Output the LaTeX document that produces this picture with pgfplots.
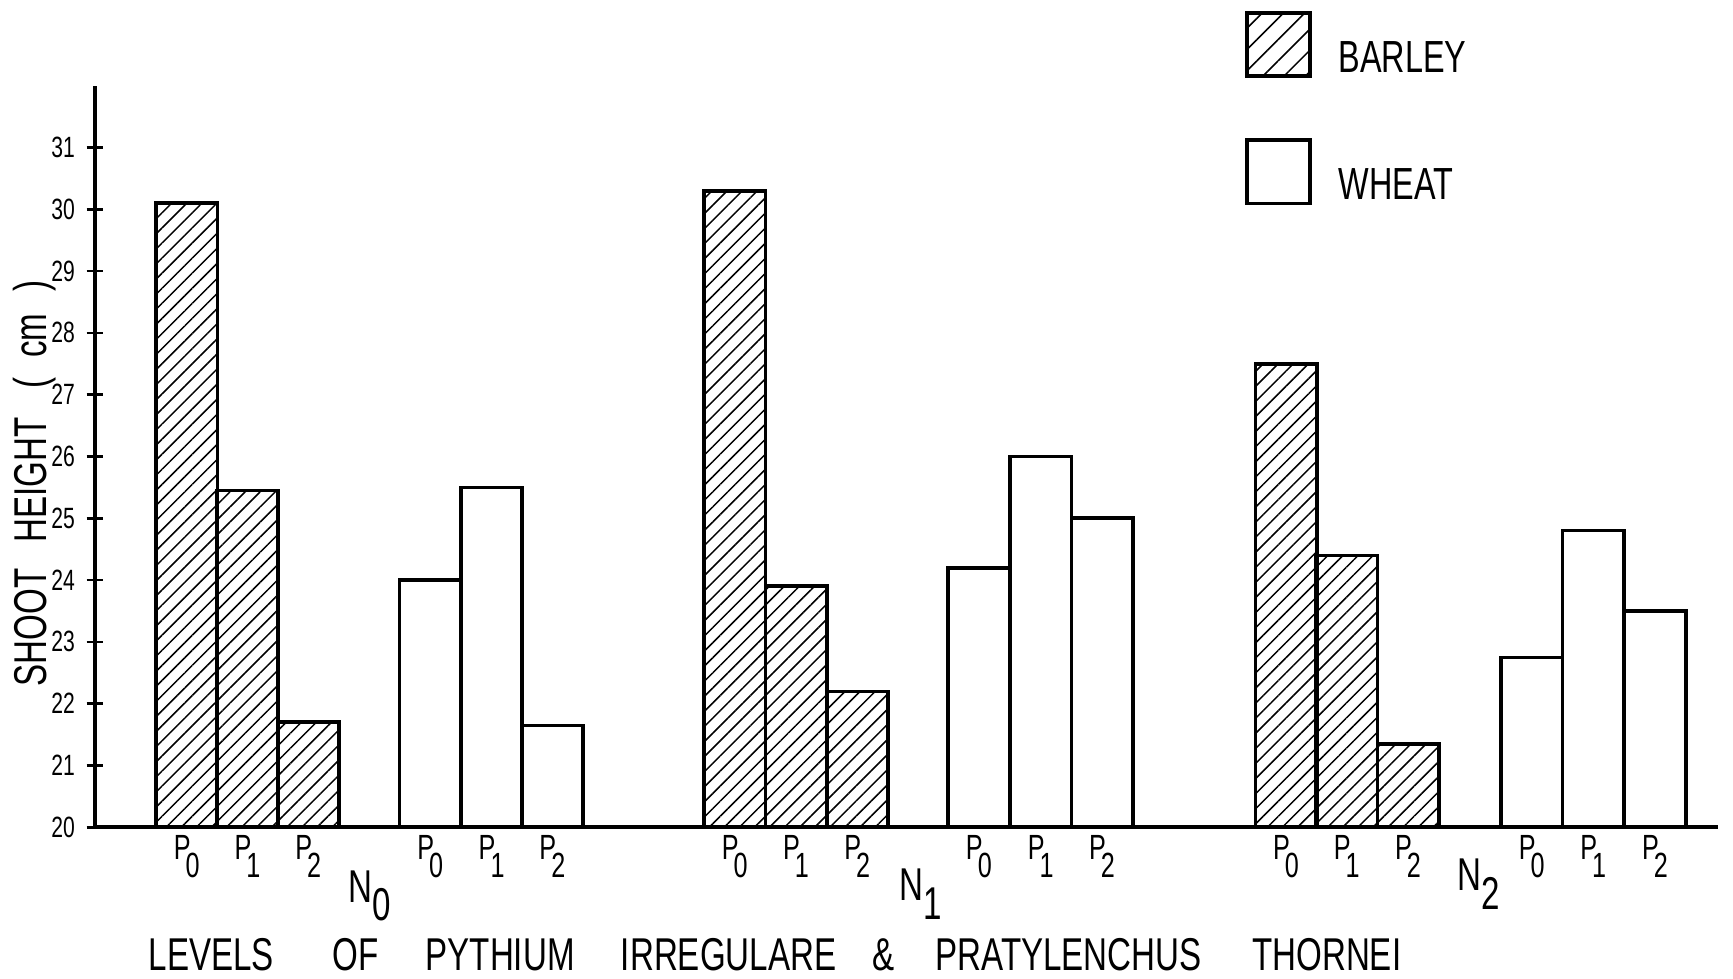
\documentclass[border=0pt]{standalone}
\usepackage{pgfplots}
\pgfplotsset{compat=1.18}
\usepackage{pgfplotstable}
\usepackage{fontspec}
\setmainfont[FakeStretch=0.72]{Liberation Sans}
\usetikzlibrary{patterns,patterns.meta}

\pgfplotstableread{
x y
169 30.1
224 25.45
279 21.7
665 30.3
720.5 23.9
776 22.2
1164 27.5
1219 24.4
1274.5 21.35
}\barley
\pgfplotstableread{
x y
389.5 24.0
445 25.5
500 21.65
886 24.2
942 26.0
997.5 25.0
1386.5 22.75
1442 24.8
1498 23.5
}\wheat

\newcommand\Pl[1]{P\kern-1.5pt\raisebox{-5.5pt}{#1}}
\newcommand\Nl[1]{N\raisebox{-5.6pt}{#1}}

\begin{document}
\begin{tikzpicture}
\begin{axis}[
  scale only axis,
  width=486.9pt, height=222.5pt,
  xmin=86, xmax=1555, ymin=20, ymax=32,
  clip mode=individual,
  axis x line=bottom, axis y line=left,
  axis line style={-, line width=1.1pt},
  /pgf/number format/assume math mode=true,
  ytick={20,...,31},
  yticklabel style={font=\fontsize{8.8}{10}\selectfont},
  tick align=center, major tick length=5pt,
  ytick style={line width=0.8pt, black},
  xtick={169,224,279,389.5,445,500,665,720.5,776,886,942,997.5,1164,1219,1274.5,1386.5,1442,1498},
  xticklabels={\Pl0,\Pl1,\Pl2,\Pl0,\Pl1,\Pl2,\Pl0,\Pl1,\Pl2,\Pl0,\Pl1,\Pl2,\Pl0,\Pl1,\Pl2,\Pl0,\Pl1,\Pl2},
  xtick style={draw=none},
  xticklabel style={font=\fontsize{10.5}{12}\selectfont, anchor=center, yshift=-6.2pt},
  ylabel={SHOOT\hspace{5pt} HEIGHT\hspace{6pt} (\hspace{3pt} cm\hspace{4pt} )},
  ylabel style={at={(rel axis cs:-0.0375,0.464)}, anchor=center, font=\fontsize{13.8}{16}\selectfont},
  xlabel={LEVELS\hspace{17.5pt}OF\hspace{14.2pt}PYTHIUM\hspace{13.9pt}IRREGULARE\hspace{10.9pt}\&\hspace{12.2pt}PRATYLENCHUS\hspace{15.2pt}THORNEI},
  xlabel style={at={(rel axis cs:0.419,-0.1712)}, anchor=center, font=\fontsize{13.8}{16}\selectfont},
  legend style={at={(rel axis cs:0.702,1.109)}, anchor=north west, draw=none, fill=none,
    font=\fontsize{13.5}{15}\selectfont, row sep=18.2pt, column sep=8pt, nodes={inner sep=0pt}},
  legend cell align=left,
]
\addplot[ybar, bar width=55.5, bar shift=0pt, draw=black, line width=1.1pt,
  pattern={Lines[angle=45, distance=3.2pt, line width=0.45pt]},
  legend image code/.code={\draw[line width=1.1pt, pattern={Lines[angle=45, distance=4.5pt, line width=0.45pt]}] (0pt,-5pt) rectangle (19pt,14pt);}]
  table {\barley};
\addlegendentry{BARLEY}
\addplot[ybar, bar width=55.5, bar shift=0pt, draw=black, fill=white, line width=1.1pt,
  legend image code/.code={\draw[line width=1.1pt, fill=white] (0pt,-5pt) rectangle (19pt,14pt);}]
  table {\wheat};
\addlegendentry{WHEAT}
\node[font=\fontsize{13.8}{16}\selectfont] at (axis cs:335,18.89) {\Nl0};
\node[font=\fontsize{13.8}{16}\selectfont] at (axis cs:833,18.92) {\Nl1};
\node[font=\fontsize{13.8}{16}\selectfont] at (axis cs:1338,19.08) {\Nl2};
\coordinate (bl) at (rel axis cs:0,0);
\coordinate (tr) at (rel axis cs:1,1);
\end{axis}
\pgfresetboundingbox
\path ([shift={(-28.5pt,-45.3pt)}]bl) rectangle ([shift={(4.5pt,25.7pt)}]tr);
\end{tikzpicture}
\end{document}
